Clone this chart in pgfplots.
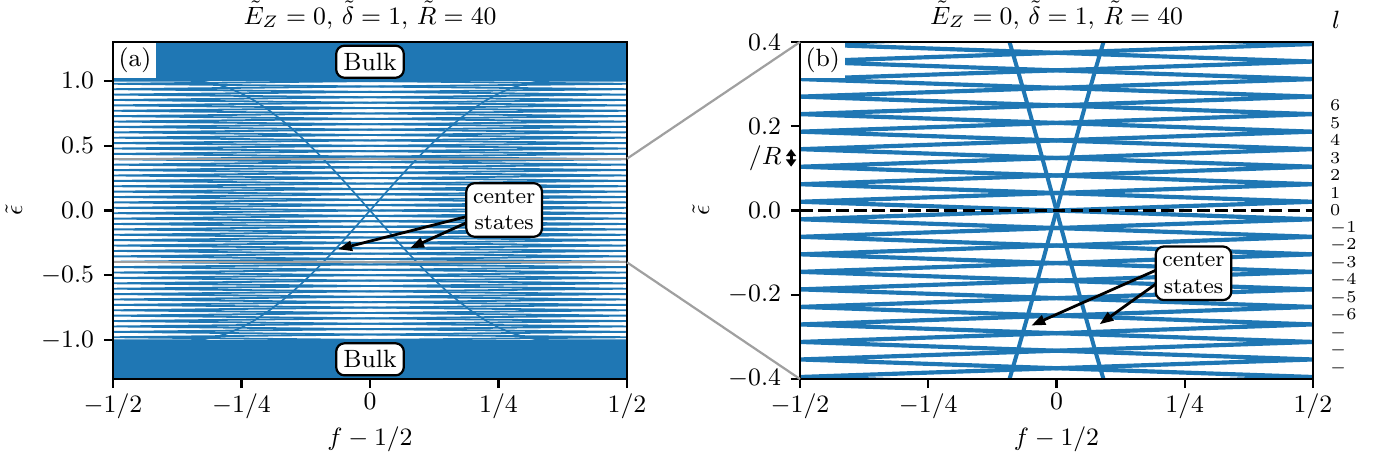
\documentclass[border=0pt]{standalone}
\usepackage{pgfplots}
\pgfplotsset{compat=1.18}
\usepackage{pgfplotstable}
\usetikzlibrary{arrows.meta}
\definecolor{tabblue}{RGB}{31,119,180}
\definecolor{zoomgray}{RGB}{160,160,160}

% edge levels (k+1/2)*Delta, xa / xb: side of the zig-zag vertex
\pgfplotstableread{
e xa xb
-1.0192 -0.5 0.5
-0.9776 0.5 -0.5
-0.9360 -0.5 0.5
-0.8944 0.5 -0.5
-0.8528 -0.5 0.5
-0.8112 0.5 -0.5
-0.7696 -0.5 0.5
-0.7280 0.5 -0.5
-0.6864 -0.5 0.5
-0.6448 0.5 -0.5
-0.6032 -0.5 0.5
-0.5616 0.5 -0.5
-0.5200 -0.5 0.5
-0.4784 0.5 -0.5
-0.4368 -0.5 0.5
-0.3952 0.5 -0.5
-0.3536 -0.5 0.5
-0.3120 0.5 -0.5
-0.2704 -0.5 0.5
-0.2288 0.5 -0.5
-0.1872 -0.5 0.5
-0.1456 0.5 -0.5
-0.1040 -0.5 0.5
-0.0624 0.5 -0.5
-0.0208 -0.5 0.5
0.0208 0.5 -0.5
0.0624 -0.5 0.5
0.1040 0.5 -0.5
0.1456 -0.5 0.5
0.1872 0.5 -0.5
0.2288 -0.5 0.5
0.2704 0.5 -0.5
0.3120 -0.5 0.5
0.3536 0.5 -0.5
0.3952 -0.5 0.5
0.4368 0.5 -0.5
0.4784 -0.5 0.5
0.5200 0.5 -0.5
0.5616 -0.5 0.5
0.6032 0.5 -0.5
0.6448 -0.5 0.5
0.6864 0.5 -0.5
0.7280 -0.5 0.5
0.7696 0.5 -0.5
0.8112 -0.5 0.5
0.8528 0.5 -0.5
0.8944 -0.5 0.5
0.9360 0.5 -0.5
0.9776 -0.5 0.5
1.0192 0.5 -0.5
}\levels

\pgfplotstableread{
x up down
-0.5 -1 1
-0.349 -1 1
-0.325 -0.9943 0.9943
-0.3 -0.9757 0.9757
-0.275 -0.9448 0.9448
-0.25 -0.9023 0.9023
-0.225 -0.8482 0.8482
-0.2 -0.7833 0.7833
-0.175 -0.7085 0.7085
-0.15 -0.6250 0.6250
-0.125 -0.5333 0.5333
-0.1 -0.4350 0.4350
-0.075 -0.3311 0.3311
-0.05 -0.2231 0.2231
-0.025 -0.1123 0.1123
0 0 0
0.025 0.1123 -0.1123
0.05 0.2231 -0.2231
0.075 0.3311 -0.3311
0.1 0.4350 -0.4350
0.125 0.5333 -0.5333
0.15 0.6250 -0.6250
0.175 0.7085 -0.7085
0.2 0.7833 -0.7833
0.225 0.8482 -0.8482
0.25 0.9023 -0.9023
0.275 0.9448 -0.9448
0.3 0.9757 -0.9757
0.325 0.9943 -0.9943
0.349 1 -1
0.5 1 -1
}\cstates

\pgfplotsset{
  myaxis/.style={
    scale only axis, height=121.32pt,
    xmin=-0.5, xmax=0.5,
    xtick={-0.5,-0.25,0,0.25,0.5},
    xticklabels={$-1/2$,$-1/4$,$0$,$1/4$,$1/2$},
    xticklabel style={yshift=1.5pt},
    yticklabel style={/pgf/number format/.cd,fixed,fixed zerofill,precision=1},
    tick align=outside, tick pos=left,
    major tick length=3.3pt,
    tick style={black, line width=0.8pt},
    axis line style={line width=0.8pt},
    xlabel={$f-1/2$}, ylabel={$\tilde{\epsilon}$},
    xlabel style={yshift=4pt},
    clip mode=individual, axis on top, no marks,
  },
}
\tikzset{
  rbox/.style={draw=black, fill=white, line width=0.8pt, rounded corners=3pt, inner sep=2.6pt},
  arr/.style={line width=1pt, -{Triangle[length=5pt,width=3.6pt]}},
}
\newcommand{\ttl}{$\tilde{E}_Z=0$, $\tilde{\delta}=1$, $\tilde{R}=40$}

\begin{document}
\begin{tikzpicture}[font=\fontsize{9}{11}\selectfont]
% ---------------- panel (a)
\begin{axis}[myaxis, name=A, at={(0pt,0pt)}, anchor=south west,
  width=185.04pt, ymin=-1.3, ymax=1.3, ytick={-1,-0.5,0,0.5,1}]
\addplot[tabblue, line width=0.65pt] table[x=xa,y=e]{\levels};
\addplot[tabblue, line width=0.65pt] table[x=xb,y=e]{\levels};
\addplot[tabblue, line width=0.6pt] table[x=x,y=up]{\cstates};
\addplot[tabblue, line width=0.6pt] table[x=x,y=down]{\cstates};
\addplot[fill=tabblue, draw=none] coordinates {(-0.5,1.0) (0.5,1.0) (0.5,1.4) (-0.5,1.4)} -- cycle;
\addplot[fill=tabblue, draw=none] coordinates {(-0.5,-1.0) (0.5,-1.0) (0.5,-1.4) (-0.5,-1.4)} -- cycle;
\draw[zoomgray, line width=0.8pt] (axis cs:-0.5,-0.4) rectangle (axis cs:0.5,0.4);
\coordinate (zA1) at (axis cs:0.5,0.4);
\coordinate (zA2) at (axis cs:0.5,-0.4);
\coordinate (tA) at (axis cs:0,1.3);
\node[fill=white, inner sep=1.8pt, anchor=north west] at (rel axis cs:0,1) {(a)};
\node[rbox] at (axis cs:0,1.148) {Bulk};
\node[rbox] at (axis cs:0,-1.148) {Bulk};
\draw[arr] (axis cs:0.189,-0.046) -- (axis cs:-0.062,-0.299);
\draw[arr] (axis cs:0.189,-0.092) -- (axis cs:0.078,-0.291);
\node[rbox, align=center, font=\fontsize{8}{9.5}\selectfont, inner sep=2.4pt] at (axis cs:0.261,0.004) {center\\states};
\end{axis}
% ---------------- panel (b)
\begin{axis}[myaxis, name=B, at={(247.32pt,0pt)}, anchor=south west,
  width=184.68pt, ymin=-0.4, ymax=0.4, ytick={-0.4,-0.2,0,0.2,0.4}]
\addplot[tabblue, line width=1.5pt] table[x=xa,y=e]{\levels};
\addplot[tabblue, line width=1.5pt] table[x=xb,y=e]{\levels};
\addplot[tabblue, line width=1.45pt] table[x=x,y=up]{\cstates};
\addplot[tabblue, line width=1.45pt] table[x=x,y=down]{\cstates};
\addplot[black, line width=1.2pt, dash pattern=on 4.5pt off 2pt] coordinates {(-0.5,0) (0.5,0)};
\coordinate (zB1) at (axis cs:-0.5,0.4);
\coordinate (zB2) at (axis cs:-0.5,-0.4);
\coordinate (tB) at (axis cs:0,0.4);
\node[fill=white, inner sep=1.8pt, anchor=north west] at (rel axis cs:0,1) {(b)};
\draw[arr] (axis cs:0.197,-0.140) -- (axis cs:-0.049,-0.273);
\draw[arr] (axis cs:0.201,-0.168) -- (axis cs:0.084,-0.270);
\node[rbox, align=center, font=\fontsize{8}{9.5}\selectfont, inner sep=2.4pt] at (axis cs:0.267,-0.149) {center\\states};
% l labels
\begin{scope}[every node/.style={anchor=west, inner sep=0pt, xshift=6pt, font=\fontsize{6}{7}\selectfont}]
\node at (axis cs:0.5,0.2496) {$6$};
\node at (axis cs:0.5,0.2080) {$5$};
\node at (axis cs:0.5,0.1664) {$4$};
\node at (axis cs:0.5,0.1248) {$3$};
\node at (axis cs:0.5,0.0832) {$2$};
\node at (axis cs:0.5,0.0416) {$1$};
\node at (axis cs:0.5,0) {$0$};
\node at (axis cs:0.5,-0.0416) {$-1$};
\node at (axis cs:0.5,-0.0832) {$-2$};
\node at (axis cs:0.5,-0.1248) {$-3$};
\node at (axis cs:0.5,-0.1664) {$-4$};
\node at (axis cs:0.5,-0.2080) {$-5$};
\node at (axis cs:0.5,-0.2496) {$-6$};
\node at (axis cs:0.5,-0.2912) {$-$};
\node at (axis cs:0.5,-0.3328) {$-$};
\node at (axis cs:0.5,-0.3744) {$-$};
\end{scope}
\node at ([xshift=8.3pt,yshift=7.9pt]rel axis cs:1,1) {$l$};
\node[anchor=east, inner sep=0pt] at ([xshift=-6.5pt]axis cs:-0.5,0.125) {$/R$};
\draw[line width=1pt, {Triangle[length=2.6pt,width=3.6pt]}-{Triangle[length=2.6pt,width=3.6pt]}]
  ([xshift=-3.2pt]axis cs:-0.5,0.104) -- ([xshift=-3.2pt]axis cs:-0.5,0.146);
\end{axis}
\draw[zoomgray, line width=0.8pt] (zA1) -- (zB1);
\draw[zoomgray, line width=0.8pt] (zA2) -- (zB2);
\node[anchor=base, inner sep=0pt] at ([yshift=6.4pt]tA) {\ttl};
\node[anchor=base, inner sep=0pt] at ([yshift=6.4pt]tB) {\ttl};
\pgfresetboundingbox
\useasboundingbox (-40.68pt,-30.6pt) rectangle (459pt,136.44pt);
\end{tikzpicture}
\end{document}
